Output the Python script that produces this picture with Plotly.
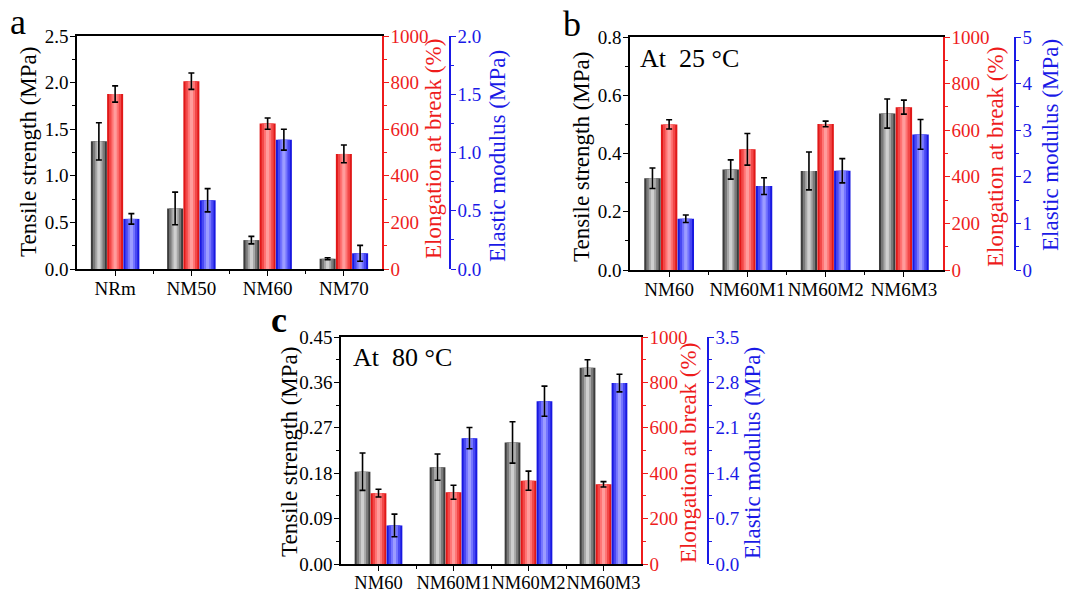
import plotly.graph_objects as go

# ---------------- data ----------------
cats_a = ["NRm", "NM50", "NM60", "NM70"]
ts_a = [1.37, 0.65, 0.31, 0.11]
ts_a_err = [0.20, 0.175, 0.04, 0.01]
el_a = [751, 806, 624, 494]
el_a_err = [35, 35, 24, 38]
em_a = [0.43, 0.59, 1.11, 0.135]
em_a_err = [0.045, 0.10, 0.09, 0.068]

cats_b = ["NM60", "NM60M1", "NM60M2", "NM6M3"]
ts_b = [0.315, 0.345, 0.34, 0.537]
ts_b_err = [0.035, 0.033, 0.065, 0.05]
el_b = [625, 518, 627, 699]
el_b_err = [20, 68, 12, 30]
em_b = [1.10, 1.80, 2.13, 2.91]
em_b_err = [0.08, 0.18, 0.26, 0.32]

cats_c = ["NM60", "NM60M1", "NM60M2", "NM60M3"]
ts_c = [0.183, 0.192, 0.241, 0.389]
ts_c_err = [0.037, 0.026, 0.041, 0.016]
el_c = [312, 316, 367, 351]
el_c_err = [17, 31, 42, 12]
em_c = [0.594, 1.94, 2.51, 2.79]
em_c_err = [0.175, 0.164, 0.233, 0.136]

FONT = "Liberation Serif"
W, H = 1069, 592

# shading layers (fraction of width, color) : dark edges -> light centre
SHADES = {
    "grey": [(1.0, "#3c3c3c"), (0.75, "#7a7a7a"), (0.45, "#a8a8a8"), (0.2, "#cfcfcf")],
    "red": [(1.0, "#e01818"), (0.75, "#f24848"), (0.45, "#ff7474"), (0.2, "#ff9c9c")],
    "blue": [(1.0, "#1818e0"), (0.75, "#4848f2"), (0.45, "#7474ff"), (0.2, "#9c9cff")],
}
BW = 0.21
OFFS = [-0.318, -0.105, 0.108]

fig = go.Figure()


def add_series(cats, vals, errs, xa, ya, shade, off):
    xs = list(range(len(cats)))
    layers = SHADES[shade]
    for i, (frac, col) in enumerate(layers):
        lw = BW * frac
        last = i == len(layers) - 1
        fig.add_trace(go.Bar(
            x=xs, y=vals, xaxis=xa, yaxis=ya,
            width=lw, offset=off + (BW - lw) / 2,
            marker=dict(color=col, line=dict(width=0)),
            error_y=dict(type="data", array=errs, visible=last,
                         color="black", thickness=1.6, width=3),
            showlegend=False, hoverinfo="skip",
        ))


panels = [
    (cats_a, [(ts_a, ts_a_err), (el_a, el_a_err), (em_a, em_a_err)], "x", ["y", "y2", "y3"]),
    (cats_b, [(ts_b, ts_b_err), (el_b, el_b_err), (em_b, em_b_err)], "x2", ["y4", "y5", "y6"]),
    (cats_c, [(ts_c, ts_c_err), (el_c, el_c_err), (em_c, em_c_err)], "x3", ["y7", "y8", "y9"]),
]
for cats, series, xa, yas in panels:
    for (vals, errs), ya, shade, off in zip(series, yas, ["grey", "red", "blue"], OFFS):
        add_series(cats, vals, errs, xa, ya, shade, off)

# ---------------- layout ----------------
def px_x(p):
    return p / W


def px_y(p):
    return 1 - p / H


def xaxis(dom, anchor, cats, fsize):
    n = len(cats)
    return dict(domain=dom, anchor=anchor, range=[-0.5, n - 0.5],
                tickmode="array", tickvals=list(range(n)), ticktext=cats, tickangle=0,
                showline=True, linecolor="black", linewidth=1.5, mirror=True,
                ticks="outside", ticklen=5, tickwidth=1.3, tickcolor="black",
                minor=dict(tickmode="array", tickvals=[i + 0.5 for i in range(n - 1)],
                           ticks="outside", ticklen=3, tickwidth=1.2, tickcolor="black"),
                ticklabelstandoff=-4,
                tickfont=dict(family=FONT, size=fsize, color="black"),
                showgrid=False, zeroline=False, automargin=False, fixedrange=True)


def yleft(dom, anchor, rng, dt, fmt):
    return dict(domain=dom, anchor=anchor, range=rng, dtick=dt, tick0=0, tickformat=fmt,
                showline=True, linecolor="black", linewidth=1.5,
                ticks="outside", ticklen=5, tickwidth=1.3, tickcolor="black",
                minor=dict(dtick=dt / 2, ticks="outside", ticklen=3, tickcolor="black", tickwidth=1.2),
                ticklabelstandoff=-2,
                tickfont=dict(family=FONT, size=19, color="black"),
                showgrid=False, zeroline=False, automargin=False, fixedrange=True)


def yright(overlay, anchor, rng, dt, fmt, color, position=None):
    d = dict(overlaying=overlay, side="right", range=rng, dtick=dt, tick0=0, tickformat=fmt,
             showline=True, linecolor=color, linewidth=1.5,
             ticks="outside", ticklen=5, tickwidth=1.3, tickcolor=color,
             minor=dict(dtick=dt / 2, ticks="outside", ticklen=3, tickcolor=color, tickwidth=1.2),
             ticklabelstandoff=-2,
             tickfont=dict(family=FONT, size=19, color=color),
             showgrid=False, zeroline=False, automargin=False, fixedrange=True)
    if position is None:
        d["anchor"] = anchor
    else:
        d["anchor"] = "free"
        d["position"] = position
    return d


TS = "Tensile strength (MPa)"
EL = "Elongation at break (%)"
EM = "Elastic modulus (MPa)"
RED = "#ee1c1c"
BLUE = "#1a1ae6"

dom_ax = [px_x(77), px_x(382)]
dom_ay = [px_y(269), px_y(36)]
dom_bx = [px_x(630), px_x(943)]
dom_by = [px_y(270), px_y(37)]
dom_cx = [px_x(341), px_x(641)]
dom_cy = [px_y(564), px_y(337)]

fig.update_layout(
    width=W, height=H,
    margin=dict(l=0, r=0, t=0, b=0),
    paper_bgcolor="white", plot_bgcolor="rgba(0,0,0,0)",
    barmode="overlay", showlegend=False,
    font=dict(family=FONT, color="black"),
    xaxis=xaxis(dom_ax, "y", cats_a, 19),
    yaxis=yleft(dom_ay, "x", [0, 2.5], 0.5, ".1f"),
    yaxis2=yright("y", "x", [0, 1000], 200, "d", RED),
    yaxis3=yright("y", "x", [0, 2.0], 0.5, ".1f", BLUE, position=px_x(450)),
    xaxis2=xaxis(dom_bx, "y4", cats_b, 19),
    yaxis4=yleft(dom_by, "x2", [0, 0.8], 0.2, ".1f"),
    yaxis5=yright("y4", "x2", [0, 1000], 200, "d", RED),
    yaxis6=yright("y4", "x2", [0, 5], 1, "d", BLUE, position=px_x(1015)),
    xaxis3=xaxis(dom_cx, "y7", cats_c, 18.5),
    yaxis7=yleft(dom_cy, "x3", [0, 0.45], 0.09, ".2f"),
    yaxis8=yright("y7", "x3", [0, 1000], 200, "d", RED),
    yaxis9=yright("y7", "x3", [0, 3.5], 0.7, ".1f", BLUE, position=px_x(708)),
)

# axis titles (rotated text)
titles = [
    (TS, 28, 152, "black"), (EL, 433, 149, RED), (EM, 498, 156, BLUE),
    (TS, 582, 157, "black"), (EL, 996, 157, RED), (EM, 1050, 145, BLUE),
    (TS, 289, 452, "black"), (EL, 688, 453, RED), (EM, 752, 453, BLUE),
]
for t, x, y, col in titles:
    fig.add_annotation(text=t, x=px_x(x), y=px_y(y), xref="paper", yref="paper",
                       showarrow=False, textangle=-90, xanchor="center", yanchor="middle",
                       font=dict(family=FONT, size=23, color=col))

annos = [
    ("a", 18, 22, False), ("b", 572, 24, False), ("c", 279, 320, True),
]
for t, x, y, bold in annos:
    fig.add_annotation(text=f"<b>{t}</b>" if bold else t, x=px_x(x), y=px_y(y),
                       xref="paper", yref="paper", showarrow=False,
                       xanchor="center", yanchor="middle",
                       font=dict(family=FONT, size=36, color="black"))

fig.add_annotation(text="At  25 \u00b0C", x=px_x(638), y=px_y(58), xref="paper", yref="paper",
                   showarrow=False, xanchor="left", yanchor="middle",
                   font=dict(family=FONT, size=26, color="black"))
fig.add_annotation(text="At  80 \u00b0C", x=px_x(351), y=px_y(357), xref="paper", yref="paper",
                   showarrow=False, xanchor="left", yanchor="middle",
                   font=dict(family=FONT, size=26, color="black"))

fig.write_html("out.html")
